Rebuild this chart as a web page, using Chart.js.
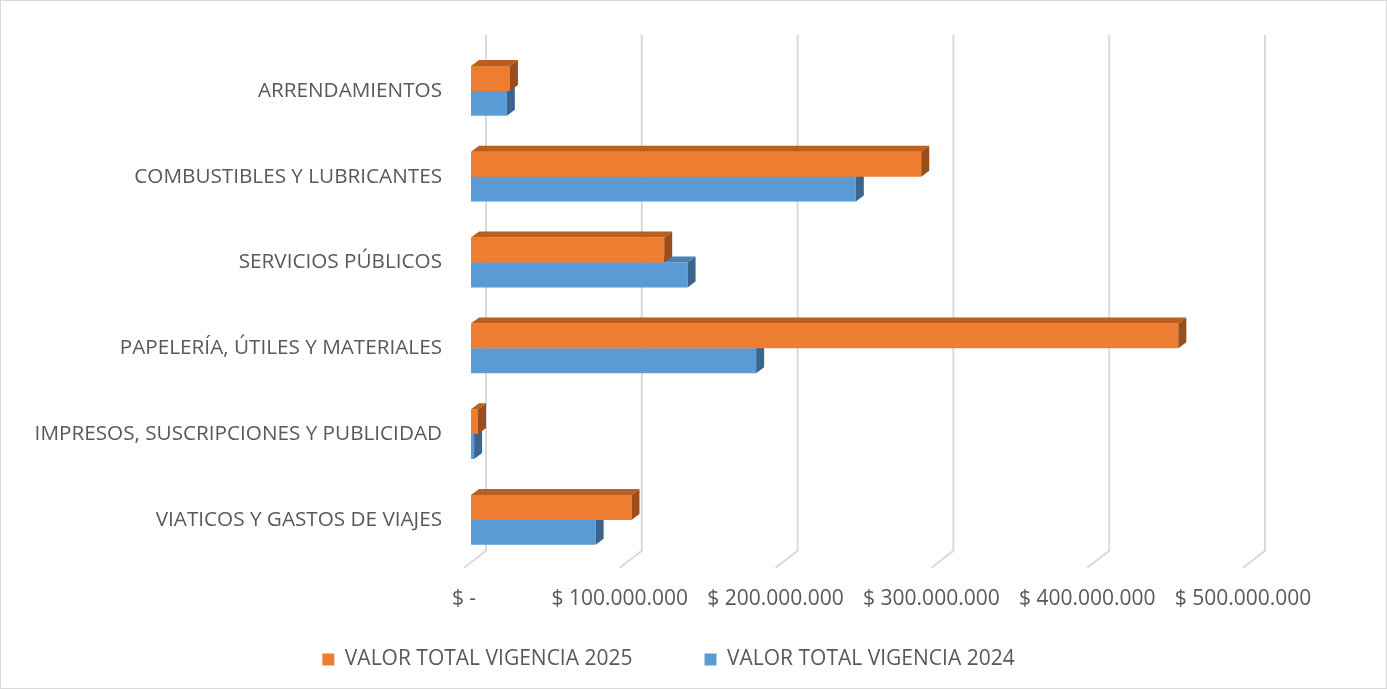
<!DOCTYPE html>
<html>
<head>
<meta charset="utf-8">
<script src="https://cdn.jsdelivr.net/npm/chart.js@4"></script>
<style>
  html, body { margin: 0; padding: 0; background: #fff; }
  #wrap { position: relative; width: 1385px; height: 687px; border: 1px solid #d9d9d9; }
</style>
</head>
<body>
<div id="wrap"><canvas id="gastosChart"></canvas></div>
<script>
// Categorias (de arriba hacia abajo)
const categorias = [
    'ARRENDAMIENTOS',
    'COMBUSTIBLES Y LUBRICANTES',
    'SERVICIOS PÚBLICOS',
    'PAPELERÍA, ÚTILES Y MATERIALES',
    'IMPRESOS, SUSCRIPCIONES Y PUBLICIDAD',
    'VIATICOS Y GASTOS DE VIAJES'
];

// Valores (pesos)
const vigencia2025 = [25000000, 289000000, 124000000, 454000000, 4500000, 103000000];
const vigencia2024 = [23000000, 247000000, 139000000, 183000000, 2000000, 80000000];

const ticksX = [0, 100000000, 200000000, 300000000, 400000000, 500000000];

const fuente = "'Open Sans', sans-serif";
const gris = '#595959';

function formatoPesos(v) {
    if (v === 0) return '$ -';
    return '$ ' + String(Math.round(v)).replace(/\B(?=(\d{3})+(?!\d))/g, '.');
}

// Caras laterales y superiores para el efecto 3D
const caras = {
    '#ED7D31': { top: '#B95F22', side: '#9C4E1A' },
    '#5B9BD5': { top: '#4A80B2', side: '#3A658F' }
};
const DX = 8, DY = 6;

const efecto3D = {
    id: 'efecto3D',
    beforeDatasetsDraw(chart) {
        // lineas de division en la pared del fondo + piso
        const ctx = chart.ctx;
        const xs = chart.scales.x;
        const area = chart.chartArea;
        ctx.save();
        ctx.strokeStyle = '#d9d9d9';
        ctx.lineWidth = 2;
        ticksX.forEach(v => {
            const x = xs.getPixelForValue(v);
            ctx.beginPath();
            ctx.moveTo(x + 15, area.top - 13);
            ctx.lineTo(x + 15, area.bottom - 12);
            ctx.lineTo(x - 7, area.bottom + 5);
            ctx.stroke();
        });
        ctx.restore();
    },
    afterDatasetDraw(chart, args) {
        const ctx = chart.ctx;
        const ds = chart.data.datasets[args.index];
        const c = caras[ds.backgroundColor];
        ctx.save();
        args.meta.data.forEach(bar => {
            const p = bar.getProps(['x', 'y', 'base', 'height'], true);
            const top = p.y - p.height / 2;
            const bottom = p.y + p.height / 2;
            // cara superior
            ctx.fillStyle = c.top;
            ctx.beginPath();
            ctx.moveTo(p.base, top);
            ctx.lineTo(p.base + DX, top - DY);
            ctx.lineTo(p.x + DX, top - DY);
            ctx.lineTo(p.x, top);
            ctx.closePath();
            ctx.fill();
            // cara lateral
            ctx.fillStyle = c.side;
            ctx.beginPath();
            ctx.moveTo(p.x, top);
            ctx.lineTo(p.x + DX, top - DY);
            ctx.lineTo(p.x + DX, bottom - DY);
            ctx.lineTo(p.x, bottom);
            ctx.closePath();
            ctx.fill();
        });
        ctx.restore();
    }
};

// la leyenda usa padding grande para separar los items; se reubica despues del layout
const ajusteLeyenda = {
    id: 'ajusteLeyenda',
    afterLayout(chart) {
        const lg = chart.legend;
        lg.top -= 51;
        lg.bottom -= 51;
        lg.left += 38;
        lg.right += 38;
    }
};

const ctxGastos = document.getElementById('gastosChart').getContext('2d');
const gastosChart = new Chart(ctxGastos, {
    type: 'bar',
    data: {
        labels: categorias,
        datasets: [{
            label: 'VALOR TOTAL VIGENCIA 2025',
            data: vigencia2025,
            backgroundColor: '#ED7D31',
            borderWidth: 0
        }, {
            label: 'VALOR TOTAL VIGENCIA 2024',
            data: vigencia2024,
            backgroundColor: '#5B9BD5',
            borderWidth: 0
        }]
    },
    options: {
        indexAxis: 'y',
        responsive: true,
        maintainAspectRatio: false,
        animation: false,
        layout: {
            padding: { left: 10, right: 136, top: 47, bottom: -43 }
        },
        scales: {
            x: {
                min: 0,
                max: 500000000,
                afterBuildTicks(scale) {
                    scale.ticks = ticksX.map(v => ({ value: v }));
                },
                grid: { display: false },
                border: { display: false },
                ticks: {
                    callback: v => formatoPesos(v),
                    labelOffset: -7,
                    padding: 16,
                    maxRotation: 0,
                    autoSkip: false,
                    color: gris,
                    font: { family: fuente, size: 21 }
                }
            },
            y: {
                afterFit(scale) { scale.width = 460; },
                grid: { display: false },
                border: { display: false },
                ticks: {
                    padding: 21,
                    color: gris,
                    font: { family: fuente, size: 20.7 }
                }
            }
        },
        datasets: {
            bar: { categoryPercentage: 0.58, barPercentage: 1 }
        },
        plugins: {
            legend: {
                position: 'bottom',
                labels: {
                    boxWidth: 12,
                    boxHeight: 12,
                    padding: 72,
                    color: gris,
                    font: { family: fuente, size: 21 }
                }
            },
            tooltip: { enabled: false }
        }
    },
    plugins: [efecto3D, ajusteLeyenda]
});
</script>
</body>
</html>
